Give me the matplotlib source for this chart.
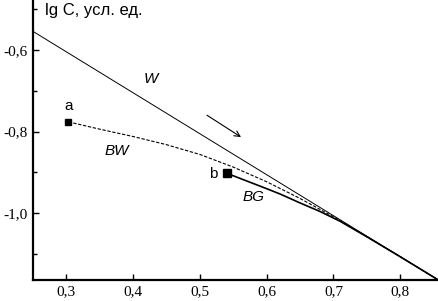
import matplotlib
matplotlib.use("Agg")
import matplotlib.pyplot as plt
from matplotlib.ticker import FixedLocator, FuncFormatter

# straight line W
w_x = [0.25, 0.858]
w_y = [-0.554, -1.165]

# curve BW (dashed), starts at point a
bw_x = [0.303, 0.35, 0.40, 0.45, 0.50, 0.55, 0.60, 0.65, 0.70, 0.75, 0.80, 0.858]
bw_y = [-0.776, -0.794, -0.812, -0.832, -0.856, -0.887, -0.923, -0.964, -1.009, -1.058, -1.107, -1.165]

# curve BG (solid), starts at point b
bg_x = [0.54, 0.57, 0.60, 0.62, 0.65, 0.68, 0.71, 0.75, 0.80, 0.858]
bg_y = [-0.902, -0.921, -0.940, -0.953, -0.975, -0.996, -1.020, -1.058, -1.107, -1.165]

x_ticks = [0.3, 0.4, 0.5, 0.6, 0.7, 0.8]
y_ticks = [-0.6, -0.8, -1.0]
y_minor = [-0.5, -0.7, -0.9, -1.1]

fig = plt.figure(figsize=(4.39, 3.01), dpi=100)
ax = fig.add_axes([33/439, 21/301, 406/439, 280/301])

ax.plot(w_x, w_y, color="black", lw=0.7)
ax.plot(bw_x, bw_y, color="black", lw=0.8, dashes=(3, 1.5))
ax.plot(bg_x, bg_y, color="black", lw=1.2)
ax.plot(bw_x[0], bw_y[0], "s", color="black", ms=5)
ax.plot(bg_x[0], bg_y[0], "s", color="black", ms=6)

ax.set_xlim(0.25, 0.858)
ax.set_ylim(-1.164, -0.477)

for s in ["top", "right"]:
    ax.spines[s].set_visible(False)
for s in ["left", "bottom"]:
    ax.spines[s].set_linewidth(1.6)

ax.xaxis.set_major_locator(FixedLocator(x_ticks))
ax.yaxis.set_major_locator(FixedLocator(y_ticks))
ax.yaxis.set_minor_locator(FixedLocator(y_minor))
fmt = FuncFormatter(lambda v, p: ("%.1f" % v).replace(".", ","))
ax.xaxis.set_major_formatter(fmt)
ax.yaxis.set_major_formatter(fmt)
ax.tick_params(which="major", direction="in", length=4, width=1, pad=4,
               labelsize=11, labelfontfamily="Liberation Serif")
ax.tick_params(which="minor", direction="in", length=3, width=1)

sans = "Liberation Sans"
ax.text(0.030, 0.964, "lg C, усл. ед.", transform=ax.transAxes, fontsize=12,
        family=sans, va="center", ha="left")
ax.text(0.426, -0.672, "W", fontsize=11, family=sans, style="italic", ha="center", va="center")
ax.text(0.303, -0.736, "a", fontsize=11, family=sans, ha="center", va="center")
ax.text(0.376, -0.847, "BW", fontsize=11, family=sans, style="italic", ha="center", va="center")
ax.text(0.520, -0.903, "b", fontsize=11, family=sans, ha="center", va="center")
ax.text(0.580, -0.960, "BG", fontsize=11, family=sans, style="italic", ha="center", va="center")

ax.annotate("", xy=(0.565, -0.817), xytext=(0.507, -0.756),
            arrowprops=dict(arrowstyle="->", color="black", lw=0.8, mutation_scale=10))

fig.savefig("out.png", dpi=100)
